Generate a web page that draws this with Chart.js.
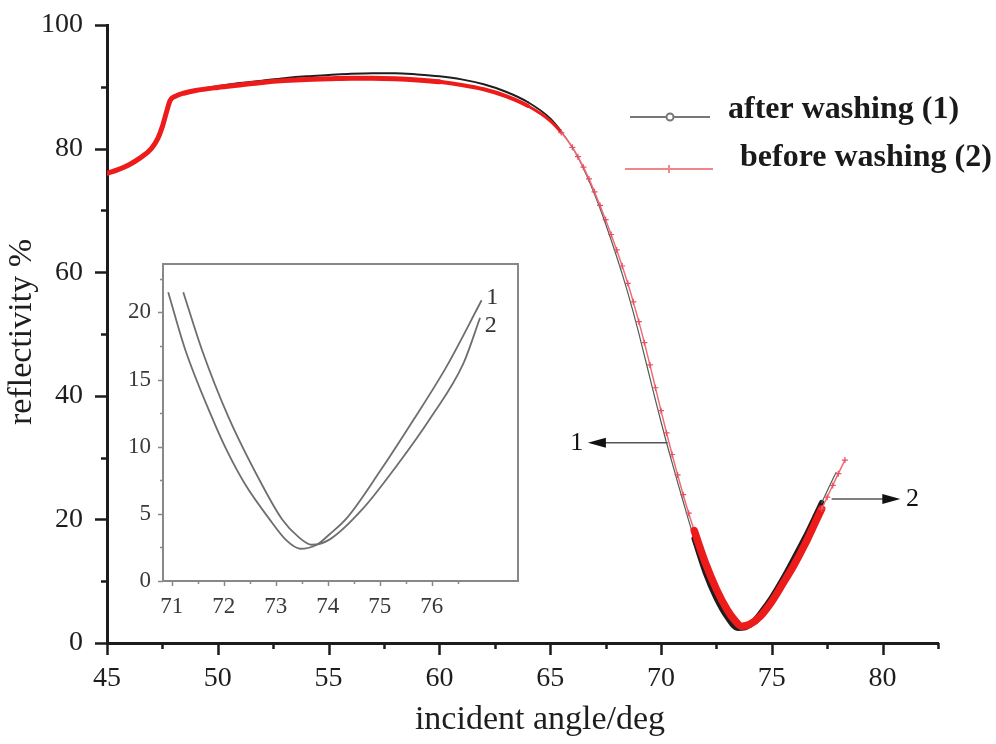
<!DOCTYPE html>
<html lang="en">
<head>
  <meta charset="UTF-8">
  <title>Reflectivity vs incident angle</title>
  <script src="https://cdn.jsdelivr.net/npm/chart.js"></script>
  <style>
    body { margin: 0; background: #fff; }
    .wrap { position: relative; width: 996px; height: 744px; }
    #main { position: absolute; left: 0; top: 0; }
    /* inset sits over the empty lower-left part of the main plot */
    #inset { position: absolute; left: 115px; top: 250px; }
  </style>
</head>
<body>
<div class="wrap">
  <canvas id="main" width="996" height="744"></canvas>
  <canvas id="inset" width="420" height="380"></canvas>
</div>
<script>
  // ---- main curves ----
  const angleAfter = [45, 45.5, 46, 46.5, 47, 47.3, 47.5, 47.7, 47.85, 48.1, 48.5, 49, 50, 51, 52, 53, 54, 55, 56, 57, 58, 59, 60, 61, 62, 63, 64, 65, 65.5,
    66, 66.25, 66.5, 66.75, 67, 67.25, 67.5, 67.75, 68, 68.25, 68.5, 68.75, 69, 69.25, 69.5, 69.75, 70, 70.25, 70.5, 70.75, 71, 71.25, 71.5,
    72, 72.5, 73, 73.45, 73.8, 74.1, 74.5, 75, 75.5, 76, 76.5, 77, 77.25, 77.5, 77.75, 77.9];
  const reflAfter = [76.0, 76.6, 77.4, 78.5, 80.1, 81.8, 83.7, 86.2, 87.9, 88.6, 89.1, 89.5, 90.1, 90.6, 91.0, 91.4, 91.7, 91.9, 92.1, 92.2, 92.2, 92.0, 91.7, 91.2, 90.4, 89.2, 87.5, 84.9, 82.8,
    80.2, 78.6, 76.8, 74.8, 72.6, 70.3, 67.8, 65.2, 62.5, 59.7, 56.7, 53.5, 50.1, 46.5, 42.9, 39.3, 35.8, 32.4, 29.2, 26.0, 22.9, 19.8, 16.9,
    11.4, 7.2, 4.1, 2.4, 2.5, 3.2, 4.9, 7.4, 10.4, 13.7, 17.1, 20.8, 22.7, 24.6, 26.5, 27.6];

  const angleBefore = [45, 45.5, 46, 46.5, 47, 47.3, 47.5, 47.7, 47.85, 48.1, 48.5, 49, 50, 51, 52, 53, 54, 55, 56, 57, 58, 59, 60, 61, 62, 63, 64, 65, 65.5,
    66, 66.25, 66.5, 66.75, 67, 67.25, 67.5, 67.75, 68, 68.25, 68.5, 68.75, 69, 69.25, 69.5, 69.75, 70, 70.25, 70.5, 70.75, 71, 71.25, 71.5,
    72, 72.5, 73, 73.3, 73.65, 74, 74.5, 75, 75.5, 76, 76.5, 77, 77.25, 77.5, 77.75, 78, 78.3];
  const reflBefore = [76.0, 76.6, 77.4, 78.5, 80.0, 81.7, 83.6, 86.1, 87.8, 88.5, 89.0, 89.4, 89.9, 90.3, 90.7, 91.0, 91.2, 91.3, 91.4, 91.4, 91.3, 91.1, 90.8, 90.3, 89.6, 88.5, 86.9, 84.5, 82.6,
    80.2, 78.7, 77.0, 75.1, 73.0, 70.8, 68.5, 66.1, 63.6, 61.0, 58.2, 55.2, 52.0, 48.6, 45.0, 41.3, 37.6, 34.0, 30.5, 27.2, 24.0, 21.0, 18.2,
    13.0, 8.7, 5.3, 3.8, 2.7, 3.0, 4.4, 6.7, 9.6, 12.6, 16.0, 19.8, 21.7, 23.6, 25.5, 27.4, 29.6];

  // ---- inset (zoom of the dip) ----
  const insetAngle1 = [70.93, 71.26, 71.77, 72.06, 72.41, 72.86, 73.21, 73.47, 73.79, 74.04, 74.37, 75.01, 75.65, 76.29, 76.96];
  const insetRefl1 = [21.5, 17.2, 12.2, 9.7, 7.2, 4.7, 3.0, 2.4, 2.7, 3.5, 4.7, 8.2, 12.0, 16.0, 20.9];
  const insetAngle2 = [71.22, 71.58, 72.09, 72.73, 73.12, 73.43, 73.69, 74.04, 74.68, 75.33, 75.97, 76.61, 76.93];
  const insetRefl2 = [21.5, 17.2, 12.2, 7.2, 4.6, 3.3, 2.7, 3.1, 5.4, 8.6, 12.1, 16.2, 19.6];

  // ---- tick labels ----
  const mainXTicks = [45, 50, 55, 60, 65, 70, 75, 80];
  const mainYTicks = [0, 20, 40, 60, 80, 100];
  const insetXTicks = [71, 72, 73, 74, 75, 76];
  const insetYTicks = [0, 5, 10, 15, 20];

  const serif = "'Liberation Serif', 'Times New Roman', serif";
  const thickFrom = 71.3, thickTo = 77.1;

  const pts = (xs, ys) => xs.map((x, i) => ({ x: x, y: ys[i] }));
  const mids = (arr) => arr.map(v => v + (arr[1] - arr[0]) / 2);
  const noPad = s => { s.paddingTop = 0; s.paddingBottom = 0; s.paddingLeft = 0; s.paddingRight = 0; };

  // tick marks drawn by hand so majors and minors get different lengths
  const tickMarks = {
    id: 'tickMarks',
    afterDraw(chart, args, o) {
      const ctx = chart.ctx, xs = chart.scales.x, ys = chart.scales.y;
      ctx.save();
      ctx.strokeStyle = o.color;
      ctx.lineWidth = o.width;
      ctx.beginPath();
      const xt = (list, len) => list.forEach(v => {
        const p = Math.round(xs.getPixelForValue(v)) + 0.5;
        ctx.moveTo(p, ys.bottom); ctx.lineTo(p, ys.bottom + len);
      });
      const yt = (list, len) => list.forEach(v => {
        const p = Math.round(ys.getPixelForValue(v)) + 0.5;
        ctx.moveTo(xs.left, p); ctx.lineTo(xs.left - len, p);
      });
      xt(o.xMajor, o.major); xt(o.xMinor, o.minor);
      yt(o.yMajor, o.major); yt(o.yMinor, o.minor);
      ctx.stroke();
      if (o.frame) {
        ctx.lineWidth = o.frameWidth;
        const a = chart.chartArea;
        ctx.strokeRect(a.left, a.top, a.right - a.left, a.bottom - a.top);
      }
      ctx.restore();
    }
  };

  // axis titles, legend, arrows and curve numbers
  const extras = {
    id: 'extras',
    afterDraw(chart, args, o) {
      const ctx = chart.ctx, xs = chart.scales.x, ys = chart.scales.y;
      ctx.save();
      ctx.fillStyle = '#1e1e1e';
      ctx.textAlign = 'center';
      ctx.textBaseline = 'middle';
      (o.titles || []).forEach(t => {
        ctx.save();
        ctx.font = t.font;
        ctx.translate(t.x, t.y);
        ctx.rotate(t.rot || 0);
        ctx.fillText(t.text, 0, 0);
        ctx.restore();
      });
      (o.legend || []).forEach(l => {
        ctx.strokeStyle = l.color;
        ctx.lineWidth = 2;
        ctx.beginPath(); ctx.moveTo(l.x0, l.y); ctx.lineTo(l.x1, l.y); ctx.stroke();
        const m = (l.x0 + l.x1) / 2;
        ctx.beginPath();
        if (l.marker === 'circle') {
          ctx.arc(m, l.y, 3.5, 0, Math.PI * 2);
          ctx.fillStyle = '#fff'; ctx.fill(); ctx.stroke();
        } else {
          ctx.moveTo(m, l.y - 4); ctx.lineTo(m, l.y + 4); ctx.stroke();
        }
        ctx.fillStyle = '#1a1a1a';
        ctx.font = o.legendFont;
        ctx.textAlign = 'left';
        ctx.fillText(l.text, l.tx, l.ty);
      });
      (o.arrows || []).forEach(a => {
        const x0 = xs.getPixelForValue(a.from), x1 = xs.getPixelForValue(a.to);
        const y = ys.getPixelForValue(a.y);
        const dir = Math.sign(x1 - x0);
        ctx.strokeStyle = '#555'; ctx.lineWidth = 1.6;
        ctx.beginPath(); ctx.moveTo(x0, y); ctx.lineTo(x1 - dir * 10, y); ctx.stroke();
        ctx.fillStyle = '#111';
        ctx.beginPath(); ctx.moveTo(x1, y); ctx.lineTo(x1 - dir * 18, y - 5); ctx.lineTo(x1 - dir * 18, y + 5); ctx.closePath(); ctx.fill();
        ctx.font = o.labelFont; ctx.textAlign = 'center';
        ctx.fillText(a.label, xs.getPixelForValue(a.labelX), y);
      });
      (o.labels || []).forEach(l => {
        ctx.fillStyle = '#333';
        ctx.font = o.labelFont; ctx.textAlign = 'left';
        ctx.fillText(l.text, xs.getPixelForValue(l.x), ys.getPixelForValue(l.y));
      });
      ctx.restore();
    }
  };

  const inThin = x => (x >= 65.5 && x < thickFrom) || x >= thickTo;
  function widthFor(x, w) {
    if (x < 60) return w[0];
    if (x < 64) return w[1];
    if (x < 65.5) return w[2];
    if (x < thickFrom) return w[3];
    if (x < thickTo) return w[4];
    return w[3];
  }

  new Chart(document.getElementById('main'), {
    type: 'line',
    data: {
      datasets: [
        {
          label: 'after washing (1)',
          data: pts(angleAfter, reflAfter),
          order: 1,
          borderColor: '#262626',
          borderWidth: 2,
          pointRadius: 0,
          cubicInterpolationMode: 'monotone',
          borderCapStyle: 'round',
          borderJoinStyle: 'round',
          segment: {
            borderWidth: c => widthFor(c.p0.parsed.x, [2, 2, 1.8, 1.2, 5.5]),
            borderColor: c => inThin(c.p0.parsed.x) ? '#4d5f55' : '#1e1e1e'
          }
        },
        {
          label: 'before washing (2)',
          data: pts(angleBefore, reflBefore),
          order: 0,
          borderColor: '#ee1b1b',
          borderWidth: 5,
          pointStyle: 'cross',
          pointRadius: c => c.raw && inThin(c.raw.x) ? 3 : 0,
          pointBorderColor: '#e8505f',
          pointBorderWidth: 1.2,
          cubicInterpolationMode: 'monotone',
          borderCapStyle: 'round',
          borderJoinStyle: 'round',
          segment: {
            borderWidth: c => widthFor(c.p0.parsed.x, [5, 4, 3, 1.5, 7.5]),
            borderColor: c => inThin(c.p0.parsed.x) ? '#f06a78' : '#ee1b1b'
          }
        }
      ]
    },
    options: {
      responsive: false,
      animation: false,
      devicePixelRatio: 1,
      layout: { padding: { top: 25, right: 58, left: 0, bottom: 0 } },
      scales: {
        x: {
          type: 'linear',
          min: 45,
          max: 82.5,
          afterFit: s => { noPad(s); s.height = 101; },
          afterBuildTicks: s => { s.ticks = mainXTicks.map(v => ({ value: v })); },
          grid: { display: false, drawTicks: false },
          border: { display: true, color: '#1c1c1c', width: 3 },
          ticks: { color: '#1e1e1e', padding: 19, maxRotation: 0, font: { family: serif, size: 28 } }
        },
        y: {
          min: 0,
          max: 100,
          afterFit: s => { noPad(s); s.width = 107; },
          afterBuildTicks: s => { s.ticks = mainYTicks.map(v => ({ value: v })); },
          grid: { display: false, drawTicks: false },
          border: { display: true, color: '#1c1c1c', width: 3 },
          ticks: { color: '#1e1e1e', padding: 24, font: { family: serif, size: 28 } }
        }
      },
      plugins: {
        legend: { display: false },
        tooltip: { enabled: false },
        tickMarks: {
          color: '#1c1c1c', width: 2.5, major: 12, minor: 6,
          xMajor: mainXTicks, xMinor: mids(mainXTicks),
          yMajor: mainYTicks, yMinor: mids(mainYTicks).slice(0, -1)
        },
        extras: {
          titles: [
            { text: 'reflectivity %', x: 22, y: 332, rot: -Math.PI / 2, font: '34px ' + serif },
            { text: 'incident angle/deg', x: 540, y: 720, font: '34px ' + serif }
          ],
          legendFont: 'bold 32px ' + serif,
          legend: [
            { text: 'after washing (1)', color: '#777', marker: 'circle', x0: 630, x1: 710, y: 117, tx: 728, ty: 110 },
            { text: 'before washing (2)', color: '#ec8888', marker: 'tick', x0: 625, x1: 713, y: 169, tx: 740, ty: 158 }
          ],
          labelFont: '26px ' + serif,
          arrows: [
            { from: 70.3, to: 66.7, y: 32.4, label: '1', labelX: 66.2 },
            { from: 77.7, to: 80.8, y: 23.3, label: '2', labelX: 81.35 }
          ]
        }
      }
    },
    plugins: [tickMarks, extras]
  });

  new Chart(document.getElementById('inset'), {
    type: 'line',
    data: {
      datasets: [
        { data: pts(insetAngle1, insetRefl1), borderColor: '#6e6e6e', borderWidth: 1.8, pointRadius: 0, cubicInterpolationMode: 'monotone' },
        { data: pts(insetAngle2, insetRefl2), borderColor: '#6e6e6e', borderWidth: 1.8, pointRadius: 0, cubicInterpolationMode: 'monotone' }
      ]
    },
    options: {
      responsive: false,
      animation: false,
      devicePixelRatio: 1,
      layout: { padding: { top: 14, right: 17, left: 0, bottom: 0 } },
      scales: {
        x: {
          type: 'linear',
          min: 70.83,
          max: 77.66,
          afterFit: s => { noPad(s); s.height = 49; },
          afterBuildTicks: s => { s.ticks = insetXTicks.map(v => ({ value: v })); },
          grid: { display: false, drawTicks: false },
          border: { display: false },
          ticks: { color: '#3a3a3a', padding: 12, maxRotation: 0, font: { family: serif, size: 23 } }
        },
        y: {
          min: 0,
          max: 23.6,
          afterFit: s => { noPad(s); s.width = 48; },
          afterBuildTicks: s => { s.ticks = insetYTicks.map(v => ({ value: v })); },
          grid: { display: false, drawTicks: false },
          border: { display: false },
          ticks: { color: '#3a3a3a', padding: 12, font: { family: serif, size: 23 } }
        }
      },
      plugins: {
        legend: { display: false },
        tooltip: { enabled: false },
        tickMarks: {
          color: '#888', width: 1.5, major: 5, minor: 3, frame: true, frameWidth: 2,
          xMajor: insetXTicks, xMinor: mids(insetXTicks),
          yMajor: insetYTicks, yMinor: mids(insetYTicks)
        },
        extras: {
          labelFont: '24px ' + serif,
          labels: [
            { text: '1', x: 77.05, y: 21.1 },
            { text: '2', x: 77.02, y: 19.0 }
          ]
        }
      }
    },
    plugins: [tickMarks, extras]
  });
</script>
</body>
</html>
